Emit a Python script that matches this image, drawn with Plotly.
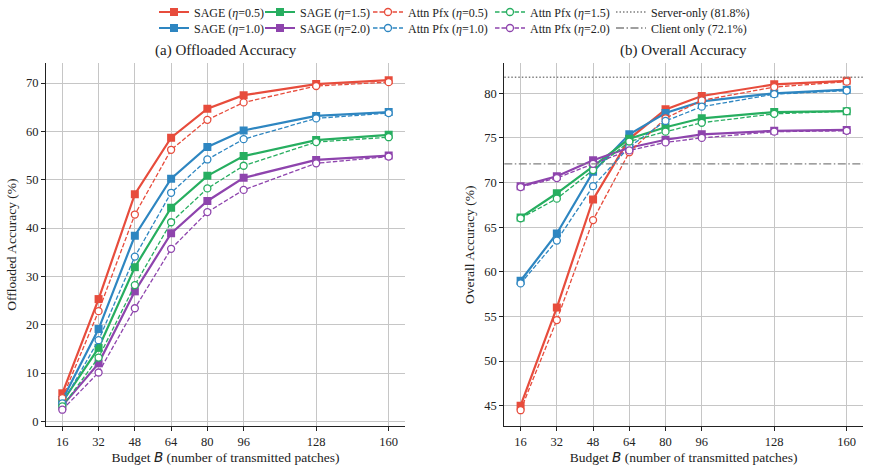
import plotly.graph_objects as go

# ---------------- data ----------------
budgets = [16, 32, 48, 64, 80, 96, 128, 160]
etas = ["0.5", "1.0", "1.5", "2.0"]

off_sage_05 = [5.8, 25.3, 47.0, 58.7, 64.7, 67.5, 69.8, 70.6]
off_sage_10 = [4.4, 19.1, 38.4, 50.2, 56.8, 60.2, 63.2, 64.0]
off_sage_15 = [4.0, 15.2, 31.9, 44.2, 50.8, 54.9, 58.2, 59.3]
off_sage_20 = [3.2, 12.0, 26.9, 38.9, 45.6, 50.4, 54.1, 55.0]

off_attn_05 = [4.8, 22.8, 42.8, 56.2, 62.4, 66.0, 69.4, 70.2]
off_attn_10 = [3.7, 16.8, 34.1, 47.3, 54.2, 58.4, 62.7, 63.8]
off_attn_15 = [3.1, 13.2, 28.2, 41.2, 48.2, 52.9, 57.8, 58.8]
off_attn_20 = [2.4, 10.1, 23.4, 35.7, 43.3, 47.9, 53.4, 54.8]

all_sage_05 = [45.0, 56.0, 68.1, 74.9, 78.2, 79.7, 81.0, 81.4]
all_sage_10 = [59.0, 64.3, 71.2, 75.4, 77.8, 79.1, 80.0, 80.4]
all_sage_15 = [66.1, 68.8, 71.8, 74.9, 76.2, 77.2, 77.9, 78.0]
all_sage_20 = [69.6, 70.7, 72.5, 73.9, 74.8, 75.4, 75.8, 75.9]

all_attn_05 = [44.5, 54.6, 65.8, 73.4, 77.2, 79.2, 80.7, 81.3]
all_attn_10 = [58.7, 63.5, 69.6, 74.0, 76.9, 78.5, 79.9, 80.3]
all_attn_15 = [66.0, 68.2, 71.4, 74.6, 75.7, 76.7, 77.7, 78.0]
all_attn_20 = [69.5, 70.5, 72.1, 73.6, 74.5, 75.0, 75.7, 75.8]

server_only = 81.8
client_only = 72.1

left_yticks = [0, 10, 20, 30, 40, 50, 60, 70]
right_yticks = [45, 50, 55, 60, 65, 70, 75, 80]

# ---------------- style ----------------
colors = {"0.5": "#E74C3C", "1.0": "#2E86C1", "1.5": "#27AE60", "2.0": "#8E44AD"}
FONT = "Liberation Serif"
W, H = 870, 471

off_sage = dict(zip(etas, [off_sage_05, off_sage_10, off_sage_15, off_sage_20]))
off_attn = dict(zip(etas, [off_attn_05, off_attn_10, off_attn_15, off_attn_20]))
all_sage = dict(zip(etas, [all_sage_05, all_sage_10, all_sage_15, all_sage_20]))
all_attn = dict(zip(etas, [all_attn_05, all_attn_10, all_attn_15, all_attn_20]))

# legend slot for each entry (column, row), matplotlib ncol=5 column-major
legend_cols_px = [154, 260, 368, 490, 611]
legend_rows_px = [12, 28]
entries = [
    ("sage", "0.5"), ("sage", "1.0"), ("sage", "1.5"), ("sage", "2.0"),
    ("attn", "0.5"), ("attn", "1.0"), ("attn", "1.5"), ("attn", "2.0"),
    ("server", None), ("client", None),
]
legend_id = {}
for i, e in enumerate(entries):
    legend_id[e] = "legend" if i == 0 else f"legend{i+1}"

fig = go.Figure()

for ax, sage, attn in [("1", off_sage, off_attn), ("2", all_sage, all_attn)]:
    xa, ya = ("x", "y") if ax == "1" else ("x2", "y2")
    first = ax == "1"
    for eta in etas:
        fig.add_trace(go.Scatter(
            x=budgets, y=sage[eta], xaxis=xa, yaxis=ya,
            mode="lines+markers", name=f"SAGE (<i>η</i>={eta})",
            line=dict(color=colors[eta], width=2.2),
            marker=dict(symbol="square", size=8, color=colors[eta],
                        line=dict(color=colors[eta], width=0)),
            showlegend=first, legend=legend_id[("sage", eta)],
            legendgroup=f"sage{eta}",
        ))
    for eta in etas:
        fig.add_trace(go.Scatter(
            x=budgets, y=attn[eta], xaxis=xa, yaxis=ya,
            mode="lines+markers", name=f"Attn Pfx (<i>η</i>={eta})",
            line=dict(color=colors[eta], width=1.3, dash="4.5px,2px"),
            marker=dict(symbol="circle", size=7, color="white",
                        line=dict(color=colors[eta], width=1.3)),
            showlegend=first, legend=legend_id[("attn", eta)],
            legendgroup=f"attn{eta}",
        ))

# reference lines (right panel)
fig.add_shape(type="line", xref="x2 domain", yref="y2", x0=0, x1=1,
              y0=server_only, y1=server_only,
              line=dict(color="#808080", width=1.3, dash="1.5px,2px"))
fig.add_shape(type="line", xref="x2 domain", yref="y2", x0=0, x1=1,
              y0=client_only, y1=client_only,
              line=dict(color="#808080", width=1.3, dash="8px,2.5px,1.5px,2.5px"))
fig.add_trace(go.Scatter(x=[None], y=[None], xaxis="x2", yaxis="y2", mode="lines",
                         name=f"Server-only ({server_only}%)",
                         line=dict(color="#808080", width=1.3, dash="1.5px,2px"),
                         legend=legend_id[("server", None)]))
fig.add_trace(go.Scatter(x=[None], y=[None], xaxis="x2", yaxis="y2", mode="lines",
                         name=f"Client only ({client_only}%)",
                         line=dict(color="#808080", width=1.3, dash="8px,2.5px,1.5px,2.5px"),
                         legend=legend_id[("client", None)]))

# legends
layout_legends = {}
for i, e in enumerate(entries):
    col, row = i // 2, i % 2
    key = legend_id[e]
    layout_legends[key] = dict(
        x=legend_cols_px[col] / W, xanchor="left",
        y=1 - legend_rows_px[row] / H, yanchor="middle",
        orientation="v", bgcolor="rgba(0,0,0,0)", borderwidth=0,
        font=dict(family=FONT, size=12, color="#222"),
        itemwidth=30, tracegroupgap=0,
    )

axis_common = dict(
    showline=True, linecolor="#222", linewidth=1.1, mirror=False,
    ticks="outside", ticklen=4, tickwidth=1, tickcolor="#222",
    showgrid=True, gridcolor="#c6c6c6", gridwidth=1, zeroline=False,
    tickfont=dict(family=FONT, size=12.5, color="#222"), automargin=False,
)
xlabel = "Budget <span style=\"font-family:'DejaVu Sans'\"><i>B</i></span> (number of transmitted patches)"
LABEL_FONT = dict(family=FONT, size=13.5, color="#222")

ydom = [1 - 426 / H, 1 - 63.3 / H]
fig.update_layout(
    width=W, height=H, margin=dict(l=0, r=0, t=0, b=0, autoexpand=False),
    paper_bgcolor="white", plot_bgcolor="white",
    font=dict(family=FONT, color="#222"),
    xaxis=dict(domain=[46 / W, 405 / W], range=[8.8, 167.2], tickvals=budgets,
               title=dict(text=xlabel, font=LABEL_FONT, standoff=3),
               anchor="y", **axis_common),
    yaxis=dict(domain=ydom, range=[-0.97, 74.1], tickvals=left_yticks,
               title=dict(text="Offloaded Accuracy (%)", font=LABEL_FONT, standoff=6),
               anchor="x", **axis_common),
    xaxis2=dict(domain=[504.3 / W, 863 / W], range=[8.8, 167.2], tickvals=budgets,
                title=dict(text=xlabel, font=LABEL_FONT, standoff=3),
                anchor="y2", **axis_common),
    yaxis2=dict(domain=ydom, range=[42.73, 83.36], tickvals=right_yticks,
                title=dict(text="Overall Accuracy (%)", font=LABEL_FONT, standoff=6),
                anchor="x2", **axis_common),
    annotations=[
        dict(text="(a) Offloaded Accuracy", xref="x domain", yref="paper", x=0.5,
             y=1 - 51 / H, yanchor="middle", showarrow=False,
             font=dict(family=FONT, size=15, color="#222")),
        dict(text="(b) Overall Accuracy", xref="x2 domain", yref="paper", x=0.5,
             y=1 - 51 / H, yanchor="middle", showarrow=False,
             font=dict(family=FONT, size=15, color="#222")),
    ],
    **layout_legends,
)

fig.write_html("out.html")
